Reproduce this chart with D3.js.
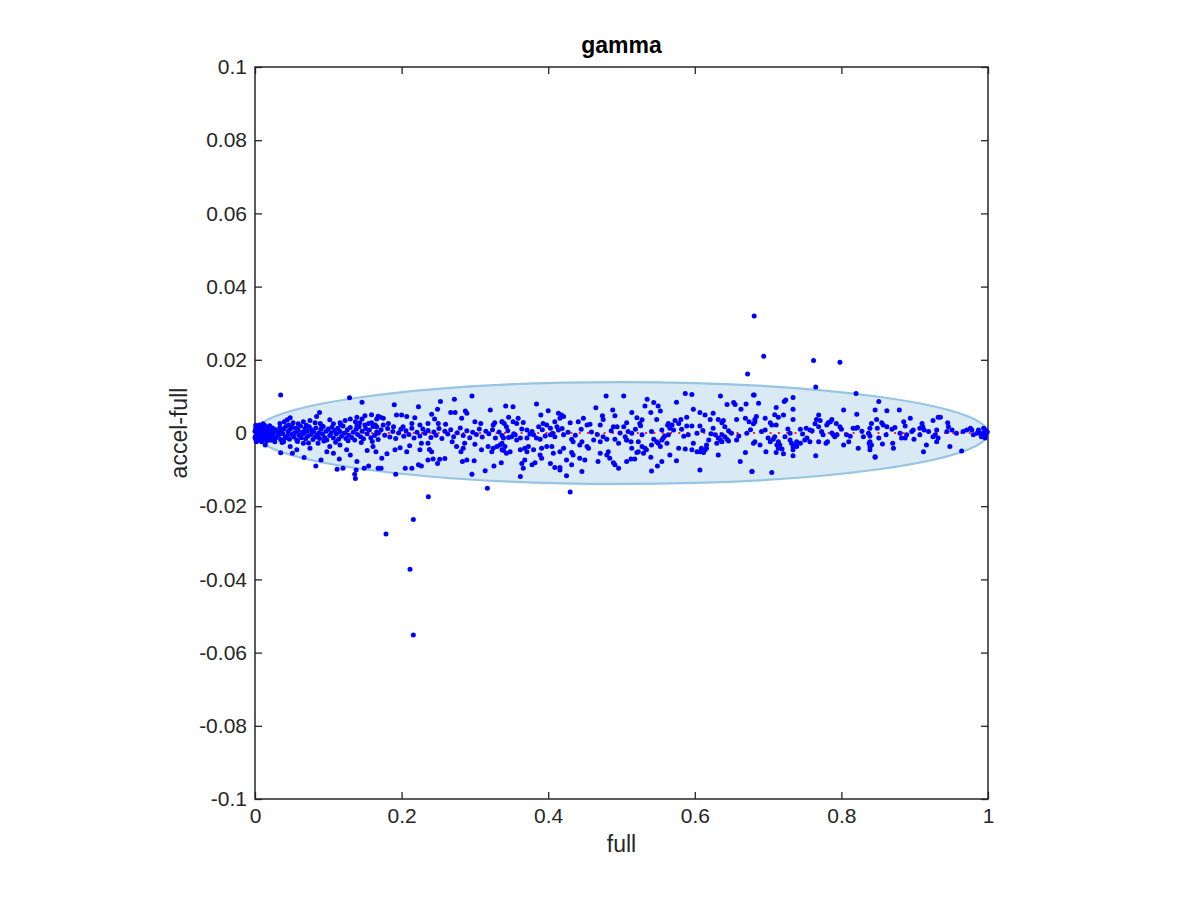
<!DOCTYPE html>
<html>
<head>
<meta charset="utf-8">
<script src="https://cdn.jsdelivr.net/npm/d3@7"></script>
<style>
  html, body { margin: 0; padding: 0; background: #ffffff; }
  svg { display: block; font-family: "Liberation Sans", Helvetica, Arial, sans-serif; }
</style>
</head>
<body>
<svg id="chart" width="1200" height="900"></svg>
<script>
// ---------------- data ----------------
const chartTitle = "gamma";
const xLabel = "full";
const yLabel = "accel-full";
const xTicks = [0, 0.2, 0.4, 0.6, 0.8, 1];
const xTickLabels = ["0", "0.2", "0.4", "0.6", "0.8", "1"];
const yTicks = [-0.1, -0.08, -0.06, -0.04, -0.02, 0, 0.02, 0.04, 0.06, 0.08, 0.1];
const yTickLabels = ["-0.1", "-0.08", "-0.06", "-0.04", "-0.02", "0", "0.02", "0.04", "0.06", "0.08", "0.1"];

// ellipse (confidence region) in data units
const ellipseCenter = [0.5, 0];
const ellipseRadii = [0.5, 0.0139];
// zero reference line
const refLine = [[0, 0], [1, 0]];

// dense cluster near x = 0
const blobPts = [
[0.000,0.0005],[0.001,-0.0008],[0.002,0.0012],[0.002,-0.0003],[0.003,0.0002],[0.004,-0.0012],[0.004,0.0008],[0.005,0.0015],
[0.005,-0.0016],[0.006,0.0003],[0.006,-0.0006],[0.007,0.0010],[0.007,-0.0020],[0.008,0.0001],[0.008,0.0019],[0.009,-0.0010],
[0.009,0.0006],[0.010,-0.0002],[0.010,0.0014],[0.011,-0.0014],[0.011,0.0004],[0.012,0.0009],[0.012,-0.0007],[0.013,0.0021],
[0.013,-0.0018],[0.014,0.0002],[0.014,-0.0004],[0.015,0.0012],[0.015,-0.0012],[0.016,0.0006],[0.016,-0.0022],[0.017,0.0016],
[0.017,-0.0001],[0.018,-0.0009],[0.018,0.0003],[0.019,0.0011],[0.019,-0.0015],[0.020,0.0000],[0.020,0.0020],[0.021,-0.0006],
[0.022,0.0009],[0.022,-0.0019],[0.023,0.0004],[0.024,-0.0011],[0.024,0.0014],[0.025,-0.0003],[0.026,0.0007],[0.027,-0.0016],
[0.003,0.0018],[0.001,0.0013],[0.001,-0.0017],[0.002,-0.0024],[0.000,-0.0012],[0.006,0.0022],[0.009,-0.0024],[0.011,0.0025],
[0.001,0.0021],[0.014,-0.0033]
];

// x 0.02 - 0.17
const region1Pts = [
[0.035,0.0104],[0.129,0.0096],[0.146,0.0084],[0.159,0.0050],[0.168,0.0046],[0.088,0.0056],[0.084,0.0045],[0.044,0.0036],
[0.048,0.0042],[0.040,0.0031],[0.034,0.0026],[0.052,0.0028],[0.059,0.0025],[0.066,0.0031],[0.075,0.0034],[0.082,0.0028],
[0.089,0.0026],[0.102,0.0036],[0.107,0.0025],[0.116,0.0028],[0.123,0.0034],[0.130,0.0038],[0.139,0.0043],[0.146,0.0038],
[0.150,0.0047],[0.137,0.0031],[0.143,0.0028],[0.150,0.0022],[0.155,0.0026],[0.159,0.0028],[0.166,0.0038],
[0.028,0.0009],[0.029,-0.0012],[0.031,0.0003],[0.032,-0.0006],[0.034,0.0015],[0.035,-0.0018],[0.036,0.0006],[0.038,-0.0002],
[0.039,0.0011],[0.041,-0.0014],[0.042,0.0018],[0.044,-0.0008],[0.045,0.0004],[0.047,-0.0017],[0.048,0.0010],[0.050,-0.0004],
[0.051,0.0016],[0.053,-0.0011],[0.054,0.0001],[0.056,0.0013],[0.057,-0.0019],[0.059,0.0007],[0.060,-0.0006],[0.062,0.0019],
[0.063,-0.0013],[0.065,0.0002],[0.066,-0.0002],[0.068,0.0012],[0.069,-0.0016],[0.071,0.0005],[0.072,-0.0009],[0.074,0.0017],
[0.076,-0.0004],[0.077,0.0009],[0.079,-0.0018],[0.080,0.0003],[0.082,-0.0011],[0.083,0.0014],[0.085,-0.0006],[0.087,0.0000],
[0.088,-0.0015],[0.090,0.0010],[0.092,-0.0003],[0.093,0.0018],[0.095,-0.0012],[0.097,0.0005],[0.098,-0.0019],[0.100,0.0011],
[0.102,-0.0007],[0.104,0.0001],[0.105,0.0016],[0.107,-0.0014],[0.109,0.0007],[0.111,-0.0003],[0.113,0.0013],[0.114,-0.0017],
[0.116,0.0004],[0.118,-0.0009],[0.120,0.0019],[0.122,-0.0001],[0.124,-0.0015],[0.126,0.0009],[0.128,-0.0006],[0.130,0.0015],
[0.132,-0.0012],[0.134,0.0002],[0.136,-0.0019],[0.138,0.0010],[0.140,-0.0004],[0.142,0.0017],[0.144,-0.0010],[0.146,0.0005],
[0.148,-0.0016],[0.151,0.0012],[0.153,-0.0002],[0.156,0.0008],[0.158,-0.0013],[0.161,0.0018],[0.163,-0.0007],[0.166,0.0003],
[0.168,-0.0018],[0.037,-0.0026],[0.058,-0.0023],[0.073,-0.0027],[0.094,-0.0022],[0.110,-0.0025],[0.127,-0.0021],[0.145,-0.0026],
[0.160,-0.0023],[0.046,0.0022],[0.070,0.0021],[0.091,0.0020],[0.117,0.0023],[0.139,0.0020],[0.164,0.0022],
[0.021,-0.0019],[0.027,-0.0024],[0.039,-0.0024],[0.035,-0.0054],[0.051,-0.0055],[0.048,-0.0037],[0.057,-0.0046],[0.066,-0.0028],
[0.067,-0.0067],[0.075,-0.0042],[0.086,-0.0028],[0.090,-0.0074],[0.083,-0.0090],[0.098,-0.0051],[0.102,-0.0037],[0.107,-0.0055],
[0.115,-0.0071],[0.116,-0.0033],[0.112,-0.0099],[0.120,-0.0096],[0.125,-0.0046],[0.130,-0.0060],[0.138,-0.0101],[0.136,-0.0113],
[0.137,-0.0124],[0.139,-0.0078],[0.149,-0.0096],[0.155,-0.0090],[0.153,-0.0048],[0.161,-0.0037],[0.165,-0.0051],[0.168,-0.0096]
];

// x 0.17 - 0.34
const region2Pts = [
[0.296,0.0101],[0.272,0.0092],[0.190,0.0077],[0.223,0.0072],[0.253,0.0086],[0.249,0.0065],[0.321,0.0063],[0.267,0.0056],
[0.273,0.0056],[0.287,0.0060],[0.289,0.0054],[0.193,0.0049],[0.200,0.0049],[0.207,0.0045],[0.218,0.0042],[0.171,0.0043],
[0.175,0.0040],[0.241,0.0051],[0.245,0.0038],[0.282,0.0040],[0.300,0.0031],[0.308,0.0026],[0.327,0.0028],[0.337,0.0031],
[0.325,0.0022],[0.250,0.0026],[0.260,0.0024],[0.236,0.0026],[0.225,0.0022],[0.214,0.0026],[0.182,0.0026],[0.175,0.0022],
[0.189,0.0017],[0.202,0.0017],[0.166,0.0017],
[0.168,-0.0001],[0.172,0.0009],[0.177,-0.0006],[0.181,0.0012],[0.184,-0.0011],[0.188,0.0004],[0.192,-0.0015],[0.196,0.0000],
[0.199,0.0010],[0.203,-0.0009],[0.206,0.0006],[0.210,-0.0004],[0.214,0.0013],[0.217,-0.0014],[0.221,0.0002],[0.225,-0.0008],
[0.229,0.0011],[0.232,-0.0001],[0.236,0.0007],[0.240,-0.0012],[0.244,0.0003],[0.247,-0.0006],[0.251,0.0012],[0.255,-0.0015],
[0.259,0.0005],[0.263,-0.0003],[0.267,0.0009],[0.271,-0.0010],[0.276,0.0001],[0.280,0.0014],[0.284,-0.0007],[0.289,0.0006],
[0.293,-0.0013],[0.297,0.0002],[0.302,-0.0004],[0.306,0.0011],[0.310,-0.0011],[0.315,0.0005],[0.319,-0.0002],[0.324,0.0009],
[0.328,-0.0014],[0.333,0.0003],[0.337,-0.0007],
[0.173,-0.0069],[0.180,-0.0057],[0.191,-0.0046],[0.198,-0.0040],[0.207,-0.0051],[0.211,-0.0035],[0.225,-0.0046],[0.227,-0.0028],
[0.236,-0.0028],[0.238,-0.0045],[0.241,-0.0051],[0.236,-0.0074],[0.243,-0.0071],[0.252,-0.0072],[0.259,-0.0070],[0.249,-0.0083],
[0.214,-0.0096],[0.205,-0.0096],[0.227,-0.0090],[0.223,-0.0087],[0.172,-0.0096],[0.192,-0.0113],[0.281,-0.0051],[0.283,-0.0078],
[0.289,-0.0074],[0.299,-0.0076],[0.284,-0.0042],[0.275,-0.0037],[0.286,-0.0028],[0.300,-0.0031],[0.269,-0.0024],[0.309,-0.0046],
[0.318,-0.0037],[0.325,-0.0042],[0.330,-0.0037],[0.334,-0.0033],[0.337,-0.0046],[0.323,-0.0051],[0.336,-0.0081],[0.326,-0.0090],
[0.296,-0.0113],[0.314,-0.0103]
];

// x 0.34 - 0.51
const region3Pts = [
[0.479,0.0101],[0.503,0.0101],[0.342,0.0074],[0.352,0.0072],[0.384,0.0079],[0.465,0.0069],[0.400,0.0061],[0.414,0.0054],
[0.418,0.0049],[0.416,0.0040],[0.409,0.0031],[0.421,0.0045],[0.390,0.0049],[0.488,0.0063],[0.474,0.0047],[0.475,0.0037],
[0.491,0.0047],[0.346,0.0043],[0.359,0.0040],[0.366,0.0029],[0.357,0.0026],[0.352,0.0031],[0.337,0.0031],[0.340,0.0026],
[0.448,0.0040],[0.441,0.0031],[0.430,0.0028],[0.453,0.0022],[0.457,0.0024],[0.471,0.0022],[0.489,0.0017],[0.494,0.0017],
[0.503,0.0017],[0.507,0.0028],[0.387,0.0017],[0.393,0.0026],[0.398,0.0022],[0.403,0.0013],[0.412,0.0017],[0.343,0.0017],
[0.371,0.0008],[0.378,0.0004],[0.414,0.0008],
[0.345,0.0006],[0.353,-0.0002],[0.364,0.0011],[0.375,-0.0003],[0.392,0.0009],[0.406,-0.0001],[0.419,0.0012],[0.427,0.0002],
[0.437,-0.0006],[0.445,0.0010],[0.459,0.0003],[0.467,-0.0004],[0.486,0.0006],[0.498,0.0000],
[0.339,-0.0014],[0.346,-0.0012],[0.350,-0.0010],[0.355,-0.0005],[0.357,-0.0019],[0.362,-0.0014],[0.371,-0.0014],[0.380,-0.0005],
[0.384,-0.0014],[0.389,-0.0017],[0.396,-0.0008],[0.403,-0.0005],[0.409,-0.0010],[0.421,-0.0005],[0.432,-0.0017],[0.434,-0.0024],
[0.446,-0.0024],[0.443,-0.0033],[0.453,-0.0037],[0.455,-0.0042],[0.462,-0.0019],[0.471,-0.0024],[0.475,-0.0010],[0.480,-0.0017],
[0.491,-0.0017],[0.496,-0.0028],[0.505,-0.0010],[0.507,-0.0019],[0.337,-0.0028],[0.341,-0.0037],[0.339,-0.0048],[0.343,-0.0055],
[0.348,-0.0051],[0.362,-0.0046],[0.368,-0.0042],[0.373,-0.0037],[0.371,-0.0051],[0.380,-0.0046],[0.391,-0.0042],[0.389,-0.0060],
[0.391,-0.0069],[0.398,-0.0037],[0.405,-0.0037],[0.407,-0.0055],[0.416,-0.0051],[0.421,-0.0042],[0.432,-0.0053],[0.434,-0.0060],
[0.443,-0.0069],[0.450,-0.0074],[0.468,-0.0078],[0.471,-0.0055],[0.482,-0.0051],[0.480,-0.0060],[0.484,-0.0069],[0.489,-0.0081],
[0.491,-0.0087],[0.496,-0.0096],[0.507,-0.0078],[0.368,-0.0074],[0.364,-0.0083],[0.378,-0.0087],[0.382,-0.0081],[0.403,-0.0083],
[0.409,-0.0094],[0.416,-0.0094],[0.425,-0.0074],[0.432,-0.0087],[0.446,-0.0105],[0.416,-0.0101],[0.366,-0.0096],[0.362,-0.0119],
[0.425,-0.0117]
];

// x 0.51 - 0.68
const region4Pts = [
[0.587,0.0108],[0.596,0.0105],[0.635,0.0101],[0.535,0.0092],[0.532,0.0074],[0.544,0.0083],[0.550,0.0074],[0.575,0.0084],
[0.644,0.0078],[0.653,0.0083],[0.655,0.0078],[0.670,0.0079],[0.680,0.0104],[0.514,0.0056],[0.540,0.0056],[0.553,0.0060],
[0.598,0.0065],[0.607,0.0056],[0.614,0.0049],[0.625,0.0054],[0.663,0.0065],[0.521,0.0042],[0.525,0.0026],[0.526,0.0020],
[0.528,0.0036],[0.548,0.0037],[0.589,0.0043],[0.581,0.0037],[0.573,0.0034],[0.578,0.0026],[0.564,0.0026],[0.563,0.0021],
[0.569,0.0022],[0.632,0.0037],[0.637,0.0028],[0.639,0.0034],[0.621,0.0037],[0.657,0.0037],[0.669,0.0040],[0.674,0.0031],
[0.680,0.0025],[0.682,0.0037],[0.596,0.0019],[0.607,0.0019],[0.589,0.0019],[0.582,0.0010],[0.571,0.0008],[0.555,0.0008],
[0.509,0.0004],[0.625,0.0013],[0.641,0.0017],
[0.519,0.0010],[0.541,0.0004],[0.566,0.0013],[0.585,-0.0009],[0.611,0.0007],[0.622,-0.0002],[0.646,0.0006],[0.660,-0.0008],
[0.676,0.0009],[0.514,-0.0001],[0.528,-0.0005],[0.591,-0.0005],[0.603,-0.0001],[0.650,-0.0001],[0.671,-0.0001],
[0.507,-0.0019],[0.513,-0.0024],[0.514,-0.0042],[0.523,-0.0024],[0.528,-0.0037],[0.523,-0.0051],[0.521,-0.0053],[0.530,-0.0055],
[0.532,-0.0042],[0.534,-0.0046],[0.544,-0.0017],[0.548,-0.0024],[0.550,-0.0028],[0.555,-0.0019],[0.557,-0.0014],[0.559,-0.0008],
[0.562,-0.0028],[0.564,-0.0005],[0.541,-0.0033],[0.553,-0.0037],[0.513,-0.0071],[0.518,-0.0071],[0.540,-0.0066],[0.549,-0.0090],
[0.555,-0.0078],[0.541,-0.0104],[0.566,-0.0060],[0.578,-0.0042],[0.587,-0.0044],[0.575,-0.0076],[0.598,-0.0028],[0.596,-0.0046],
[0.603,-0.0051],[0.607,-0.0051],[0.612,-0.0053],[0.614,-0.0046],[0.616,-0.0042],[0.609,-0.0042],[0.607,-0.0101],[0.616,-0.0033],
[0.619,-0.0019],[0.628,-0.0005],[0.632,-0.0014],[0.635,-0.0019],[0.637,-0.0005],[0.641,-0.0010],[0.644,-0.0017],[0.630,-0.0028],
[0.637,-0.0024],[0.646,-0.0022],[0.657,-0.0019],[0.662,-0.0078],[0.678,-0.0105],[0.669,-0.0053],[0.680,-0.0028],[0.632,-0.0060]
];

// x 0.68 - 0.85
const region5Pts = [
[0.765,0.0126],[0.681,0.0104],[0.820,0.0108],[0.851,0.0086],[0.687,0.0081],[0.724,0.0090],[0.722,0.0086],[0.734,0.0097],
[0.711,0.0070],[0.734,0.0065],[0.709,0.0050],[0.721,0.0049],[0.714,0.0043],[0.684,0.0045],[0.696,0.0040],[0.703,0.0028],
[0.705,0.0022],[0.711,0.0022],[0.734,0.0037],[0.682,0.0031],[0.769,0.0049],[0.766,0.0037],[0.771,0.0034],[0.764,0.0025],
[0.769,0.0017],[0.780,0.0022],[0.782,0.0028],[0.787,0.0037],[0.785,0.0031],[0.793,0.0026],[0.798,0.0017],[0.803,0.0063],
[0.821,0.0051],[0.820,0.0013],[0.822,0.0015],[0.816,0.0013],[0.839,0.0013],[0.841,0.0026],[0.848,0.0037],[0.849,0.0013],
[0.752,0.0013],[0.757,0.0008],[0.744,0.0010],
[0.691,0.0004],[0.727,0.0011],[0.747,-0.0003],[0.760,0.0006],[0.800,0.0010],[0.812,-0.0009],[0.828,0.0005],
[0.682,-0.0024],[0.689,-0.0033],[0.696,0.0008],[0.700,-0.0014],[0.703,-0.0024],[0.707,-0.0017],[0.709,-0.0010],[0.714,-0.0024],
[0.712,-0.0033],[0.714,-0.0042],[0.719,-0.0044],[0.716,-0.0033],[0.697,-0.0051],[0.711,-0.0053],[0.721,-0.0057],[0.723,-0.0010],
[0.730,-0.0001],[0.730,-0.0019],[0.732,-0.0028],[0.737,-0.0033],[0.739,-0.0037],[0.734,-0.0037],[0.734,-0.0046],[0.744,-0.0028],
[0.750,-0.0019],[0.757,-0.0024],[0.753,-0.0014],[0.739,-0.0024],[0.734,-0.0062],[0.765,-0.0062],[0.769,-0.0024],[0.773,0.0004],
[0.775,-0.0005],[0.779,-0.0028],[0.781,-0.0024],[0.787,0.0000],[0.789,-0.0005],[0.791,-0.0010],[0.794,-0.0005],[0.807,-0.0005],
[0.810,-0.0024],[0.803,-0.0033],[0.823,-0.0042],[0.830,-0.0010],[0.837,-0.0001],[0.839,-0.0008],[0.838,-0.0028],[0.839,-0.0037],
[0.846,-0.0065],[0.851,-0.0014],[0.678,-0.0105],[0.705,-0.0108]
];

// x 0.85 - 1
const region6Pts = [
[0.846,0.0063],[0.862,0.0061],[0.879,0.0063],[0.894,0.0040],[0.885,0.0031],[0.887,0.0019],[0.932,0.0043],[0.935,0.0043],
[0.925,0.0034],[0.945,0.0028],[0.976,0.0013],[0.978,0.0008],[0.987,0.0008],[0.994,0.0013],[0.996,0.0008],[0.855,0.0028],
[0.857,0.0022],[0.862,0.0017],[0.869,0.0010],[0.873,0.0015],[0.896,0.0004],[0.898,0.0008],[0.907,0.0013],[0.910,0.0026],
[0.911,0.0017],[0.913,0.0008],[0.919,0.0004],[0.930,0.0008],[0.944,0.0004],[0.951,0.0008],[0.946,0.0017],[0.971,0.0008],
[0.998,0.0004],
[0.880,-0.0001],[0.882,-0.0014],[0.889,-0.0005],[0.928,-0.0005],[0.925,-0.0010],[0.932,-0.0014],[0.930,-0.0024],[0.957,-0.0001],
[0.966,0.0004],[0.980,-0.0005],[0.985,-0.0001],[0.989,0.0000],[0.994,-0.0001],[0.996,-0.0014],[0.991,-0.0010],[0.996,-0.0005],
[0.839,-0.0024],[0.841,-0.0033],[0.856,-0.0030],[0.861,-0.0005],[0.870,-0.0028],[0.871,-0.0042],[0.887,-0.0014],[0.899,-0.0017],
[0.907,-0.0005],[0.916,-0.0033],[0.912,-0.0051],[0.948,-0.0037],[0.964,-0.0049],[0.846,-0.0066],[0.839,-0.0046],[0.999,0.0003]
];

// points far outside the band
const outlierPts = [
[0.681,0.0320],[0.694,0.0210],[0.762,0.0198],[0.798,0.0193],[0.672,0.0161],
[0.2365,-0.0174],[0.216,-0.0236],[0.1787,-0.0276],[0.2115,-0.0372],[0.216,-0.0552],
[0.317,-0.0151],[0.430,-0.0161]
];

// ---------------- chart ----------------
const svg = d3.select("#chart");
const plot = { left: 255, right: 988, top: 67, bottom: 799 };
const textColor = "#262626";
const fontFam = "'Liberation Sans', Helvetica, Arial, sans-serif";

const x = d3.scaleLinear().domain([0, 1]).range([plot.left, plot.right]);
const y = d3.scaleLinear().domain([-0.1, 0.1]).range([plot.bottom, plot.top]);

// ellipse
svg.append("ellipse")
  .attr("cx", x(ellipseCenter[0]))
  .attr("cy", y(ellipseCenter[1]))
  .attr("rx", x(ellipseCenter[0] + ellipseRadii[0]) - x(ellipseCenter[0]))
  .attr("ry", y(ellipseCenter[1]) - y(ellipseCenter[1] + ellipseRadii[1]))
  .attr("fill", "rgb(217,234,245)")
  .attr("stroke", "rgb(150,197,228)")
  .attr("stroke-width", 2.2);

// zero reference (dotted red)
svg.append("path")
  .datum(refLine)
  .attr("d", d3.line().x(d => x(d[0])).y(d => y(d[1])))
  .attr("fill", "none")
  .attr("stroke", "#ff2020")
  .attr("stroke-width", 2)
  .attr("stroke-dasharray", "2,6.3");

// axes
const tickLen = 7;
const fmtX = d => xTickLabels[xTicks.indexOf(d)];
const fmtY = d => yTickLabels[yTicks.indexOf(d)];

const gx = svg.append("g").attr("transform", `translate(0,${plot.bottom})`)
  .call(d3.axisBottom(x).tickValues(xTicks).tickFormat(fmtX).tickSize(-tickLen).tickPadding(9));
const gxt = svg.append("g").attr("transform", `translate(0,${plot.top})`)
  .call(d3.axisTop(x).tickValues(xTicks).tickFormat("").tickSize(-tickLen));
const gy = svg.append("g").attr("transform", `translate(${plot.left},0)`)
  .call(d3.axisLeft(y).tickValues(yTicks).tickFormat(fmtY).tickSize(-tickLen).tickPadding(8));
const gyr = svg.append("g").attr("transform", `translate(${plot.right},0)`)
  .call(d3.axisRight(y).tickValues(yTicks).tickFormat("").tickSize(-tickLen));

[gx, gxt, gy, gyr].forEach(g => {
  g.select(".domain").remove();
  g.selectAll(".tick line").attr("stroke", textColor).attr("stroke-width", 1.3);
  g.selectAll(".tick text").attr("fill", textColor).style("font-size", "21px")
    .style("font-family", fontFam);
});

// box
svg.append("rect")
  .attr("x", plot.left).attr("y", plot.top)
  .attr("width", plot.right - plot.left).attr("height", plot.bottom - plot.top)
  .attr("fill", "none").attr("stroke", textColor).attr("stroke-width", 1.5);

// points
const allPts = [].concat(blobPts, region1Pts, region2Pts, region3Pts, region4Pts, region5Pts, region6Pts, outlierPts);
svg.append("g").selectAll("circle").data(allPts).join("circle")
  .attr("cx", d => x(d[0]))
  .attr("cy", d => y(d[1]))
  .attr("r", 2.5)
  .attr("fill", "#0000ff");

// labels
svg.append("text").text(chartTitle)
  .attr("x", (plot.left + plot.right) / 2).attr("y", 53)
  .attr("text-anchor", "middle").attr("fill", "#000")
  .style("font-size", "23px").style("font-weight", "bold");

svg.append("text").text(xLabel)
  .attr("x", (plot.left + plot.right) / 2).attr("y", 852)
  .attr("text-anchor", "middle").attr("fill", textColor)
  .style("font-size", "23px");

svg.append("text").text(yLabel)
  .attr("transform", `translate(187,${(plot.top + plot.bottom) / 2}) rotate(-90)`)
  .attr("text-anchor", "middle").attr("fill", textColor)
  .style("font-size", "23px");
</script>
</body>
</html>
